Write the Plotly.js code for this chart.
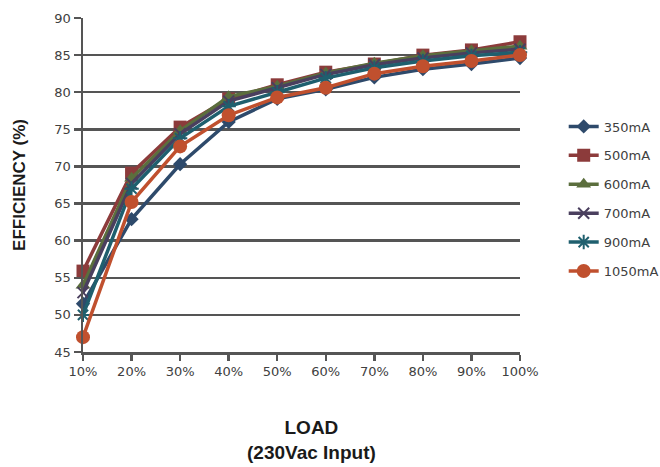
<!DOCTYPE html>
<html>
<head>
<meta charset="utf-8">
<script src="https://cdn.plot.ly/plotly-3.0.1.min.js"></script>
<style>html,body{margin:0;padding:0;background:#fff;}#chart{width:660px;height:467px;}</style>
</head>
<body>
<div id="chart"></div>
<script>
const loads = ["10%","20%","30%","40%","50%","60%","70%","80%","90%","100%"];
const s350  = [51.5, 62.9, 70.3, 76.0, 79.1, 80.4, 82.0, 83.1, 83.8, 84.6];
const s500  = [55.9, 69.1, 75.3, 79.1, 81.0, 82.7, 83.8, 85.0, 85.7, 86.8];
const s600  = [54.0, 68.4, 74.8, 79.4, 80.8, 82.6, 83.9, 84.9, 85.6, 86.2];
const s700  = [53.0, 67.7, 74.4, 78.8, 80.6, 82.4, 83.7, 84.6, 85.3, 85.8];
const s900  = [50.0, 67.0, 73.8, 78.1, 80.0, 81.9, 83.3, 84.2, 84.9, 85.4];
const s1050 = [47.0, 65.2, 72.7, 76.9, 79.3, 80.6, 82.5, 83.5, 84.2, 85.0];
const names = ["350mA","500mA","600mA","700mA","900mA","1050mA"];
const yTicks = [45,50,55,60,65,70,75,80,85,90];
const xTitle = "<b>LOAD</b><br><b>(230Vac Input)</b>";
const yTitle = "<b>EFFICIENCY (%)</b>";

const series = [s350, s500, s600, s700, s900, s1050];
const colors = ["#2E4A6B","#8C3B3B","#5B6E3D","#4A3F5E","#1F5F6E","#C0502E"];
const symbols = ["diamond","square","triangle-up","x-thin-open","asterisk-open","circle"];
const sizes = [11, 13, 13, 11, 12, 14];

const traces = series.map((s, i) => ({
  type: "scatter",
  mode: "lines+markers",
  x: loads,
  y: s,
  name: names[i],
  legendgroup: names[i],
  line: {color: colors[i], width: 3.5},
  marker: {symbol: symbols[i], size: sizes[i], color: colors[i],
           line: {color: colors[i], width: (i===3||i===4) ? 2 : 0}},
  cliponaxis: false
}));

const layout = {
  width: 660, height: 467,
  margin: {l: 83, r: 140, t: 18, b: 115, autoexpand: false},
  paper_bgcolor: "#fff", plot_bgcolor: "#fff",
  showlegend: true,
  font: {family: "DejaVu Sans, Verdana, sans-serif", color: "#404040", size: 13},
  xaxis: {
    type: "category",
    range: [0, 9],
    showgrid: false,
    zeroline: false,
    showline: true, linecolor: "#555555", linewidth: 2.5,
    ticks: "outside", ticklen: 6, tickcolor: "#555555", tickwidth: 2.5,
    tickfont: {size: 13, color: "#404040"}
  },
  yaxis: {
    range: [45, 90],
    tickvals: yTicks,
    showgrid: true, gridcolor: "#555555", gridwidth: 2.5,
    zeroline: false,
    showline: true, linecolor: "#555555", linewidth: 2.5,
    ticks: "outside", ticklen: 7, tickcolor: "#555555", tickwidth: 2.5,
    tickfont: {size: 13, color: "#404040"},
    title: {text: yTitle, standoff: 25,
            font: {family: "Liberation Sans, Arial, sans-serif", size: 17, color: "#1a1a1a"}}
  },
  annotations: [{
    text: xTitle, xref: "paper", yref: "paper",
    x: 0.522, y: -0.19, xanchor: "center", yanchor: "top",
    showarrow: false,
    font: {family: "Liberation Sans Narrow, Liberation Sans, Arial, sans-serif", size: 19, color: "#1a1a1a"}
  }],
  legend: {
    x: 1.1, y: 0.72, xanchor: "left", yanchor: "top",
    font: {size: 13, color: "#404040"},
    tracegroupgap: 9,
    bgcolor: "rgba(0,0,0,0)"
  }
};

Plotly.newPlot("chart", traces, layout, {displayModeBar: false, staticPlot: true});
</script>
</body>
</html>
